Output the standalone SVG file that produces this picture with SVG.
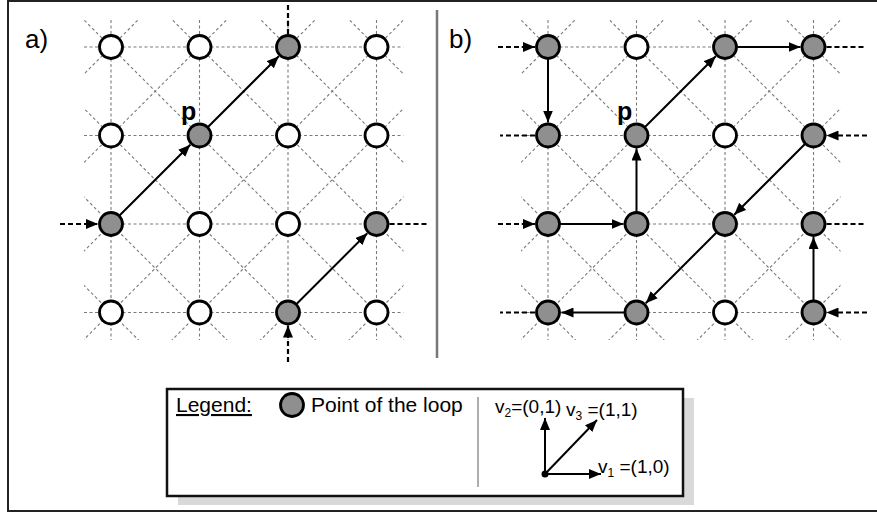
<svg xmlns="http://www.w3.org/2000/svg" width="877" height="513" viewBox="0 0 877 513">
<style>
.grid{stroke:#7a7a7a;stroke-width:1.1;stroke-dasharray:3,2.5;fill:none}
.arr{stroke:#000;stroke-width:2;fill:none;marker-end:url(#ah)}
.ext{stroke:#000;stroke-width:2.2;stroke-dasharray:5,3;fill:none}
.exta{stroke:#000;stroke-width:2.2;stroke-dasharray:5,3;fill:none;marker-end:url(#ah)}
.on{fill:#8f8f8f;stroke:#000;stroke-width:2.8}
.off{fill:#fff;stroke:#000;stroke-width:2.8}
.lbl{font-family:"Liberation Sans",Arial,sans-serif;fill:#000}
</style>
<defs>
<marker id="ah" markerUnits="userSpaceOnUse" markerWidth="12" markerHeight="10" refX="12" refY="5" orient="auto">
<path d="M0,0 L12,5 L0,10 z" fill="#000"/>
</marker>
<clipPath id="clipA"><rect x="-27" y="-27" width="319.5" height="320"/></clipPath>
<g id="gridlines">
<path d="M-27,0H292.5M-27,88.5H292.5M-27,177H292.5M-27,265.5H292.5M0,-27V293M88.5,-27V293M177,-27V293M265.5,-27V293"/>
<path d="M-665.5,-400L134.5,400M-577,-400L223,400M-488.5,-400L311.5,400M-400,-400L400,400M-311.5,-400L488.5,400M-223,-400L577,400M-134.5,-400L665.5,400"/>
<path d="M400,-400L-400,400M488.5,-400L-311.5,400M577,-400L-223,400M665.5,-400L-134.5,400M754,-400L-46,400M842.5,-400L42.5,400M931,-400L131,400"/>
</g>
</defs>
<rect x="8" y="1" width="872" height="510" fill="#fff" stroke="#222" stroke-width="2"/>
<line x1="437" y1="10" x2="437" y2="358" stroke="#777" stroke-width="2.5"/>
<g id="grid-a" class="grid" transform="translate(111,47)" clip-path="url(#clipA)"><use href="#gridlines"/></g>
<g id="grid-b" class="grid" transform="translate(548,47)" clip-path="url(#clipA)"><use href="#gridlines"/></g>
<text class="lbl" x="25" y="48" font-size="26">a)</text>
<text class="lbl" x="449" y="48" font-size="26">b)</text>
<text class="lbl" x="181" y="120" font-size="25" font-weight="bold">p</text>
<text class="lbl" x="617" y="120" font-size="25" font-weight="bold">p</text>
<g id="connectors">
<line class="arr" x1="111" y1="224" x2="190.3" y2="144.7"/>
<line class="arr" x1="199.5" y1="135.5" x2="278.8" y2="56.2"/>
<line class="arr" x1="288" y1="312.5" x2="367.3" y2="233.2"/>
<line class="exta" x1="60" y1="224" x2="98" y2="224"/>
<line class="exta" x1="288" y1="362" x2="288" y2="325.5"/>
<line class="ext" x1="288" y1="34" x2="288" y2="3"/>
<line class="ext" x1="389.5" y1="224" x2="427" y2="224"/>
<line class="exta" x1="498" y1="47" x2="535" y2="47"/>
<line class="arr" x1="548" y1="47" x2="548" y2="122.5"/>
<line class="ext" x1="535" y1="135.5" x2="500" y2="135.5"/>
<line class="exta" x1="498" y1="224" x2="535" y2="224"/>
<line class="arr" x1="548" y1="224" x2="623.5" y2="224"/>
<line class="arr" x1="636.5" y1="224" x2="636.5" y2="148.5"/>
<line class="arr" x1="636.5" y1="135.5" x2="715.8" y2="56.2"/>
<line class="arr" x1="725" y1="47" x2="800.5" y2="47"/>
<line class="ext" x1="826.5" y1="47" x2="865" y2="47"/>
<line class="exta" x1="867" y1="135.5" x2="826.5" y2="135.5"/>
<line class="arr" x1="813.5" y1="135.5" x2="734.2" y2="214.8"/>
<line class="arr" x1="725" y1="224" x2="645.7" y2="303.3"/>
<line class="arr" x1="636.5" y1="312.5" x2="561.5" y2="312.5"/>
<line class="ext" x1="535" y1="312.5" x2="500" y2="312.5"/>
<line class="ext" x1="826.5" y1="224" x2="865" y2="224"/>
<line class="arr" x1="813.5" y1="312.5" x2="813.5" y2="237"/>
<line class="exta" x1="867" y1="312.5" x2="826.5" y2="312.5"/>
</g>
<g id="nodes-a">
<g id="a00"><circle class="off" cx="111" cy="47" r="11.5"/></g>
<g id="a10"><circle class="off" cx="199.5" cy="47" r="11.5"/></g>
<g id="a20"><circle class="on" cx="288" cy="47" r="11.5"/></g>
<g id="a30"><circle class="off" cx="376.5" cy="47" r="11.5"/></g>
<g id="a01"><circle class="off" cx="111" cy="135.5" r="11.5"/></g>
<g id="a11"><circle class="on" cx="199.5" cy="135.5" r="11.5"/></g>
<g id="a21"><circle class="off" cx="288" cy="135.5" r="11.5"/></g>
<g id="a31"><circle class="off" cx="376.5" cy="135.5" r="11.5"/></g>
<g id="a02"><circle class="on" cx="111" cy="224" r="11.5"/></g>
<g id="a12"><circle class="off" cx="199.5" cy="224" r="11.5"/></g>
<g id="a22"><circle class="off" cx="288" cy="224" r="11.5"/></g>
<g id="a32"><circle class="on" cx="376.5" cy="224" r="11.5"/></g>
<g id="a03"><circle class="off" cx="111" cy="312.5" r="11.5"/></g>
<g id="a13"><circle class="off" cx="199.5" cy="312.5" r="11.5"/></g>
<g id="a23"><circle class="on" cx="288" cy="312.5" r="11.5"/></g>
<g id="a33"><circle class="off" cx="376.5" cy="312.5" r="11.5"/></g>
</g>
<g id="nodes-b">
<g id="b00"><circle class="on" cx="548" cy="47" r="11.5"/></g>
<g id="b10"><circle class="off" cx="636.5" cy="47" r="11.5"/></g>
<g id="b20"><circle class="on" cx="725" cy="47" r="11.5"/></g>
<g id="b30"><circle class="on" cx="813.5" cy="47" r="11.5"/></g>
<g id="b01"><circle class="on" cx="548" cy="135.5" r="11.5"/></g>
<g id="b11"><circle class="on" cx="636.5" cy="135.5" r="11.5"/></g>
<g id="b21"><circle class="off" cx="725" cy="135.5" r="11.5"/></g>
<g id="b31"><circle class="on" cx="813.5" cy="135.5" r="11.5"/></g>
<g id="b02"><circle class="on" cx="548" cy="224" r="11.5"/></g>
<g id="b12"><circle class="on" cx="636.5" cy="224" r="11.5"/></g>
<g id="b22"><circle class="on" cx="725" cy="224" r="11.5"/></g>
<g id="b32"><circle class="on" cx="813.5" cy="224" r="11.5"/></g>
<g id="b03"><circle class="on" cx="548" cy="312.5" r="11.5"/></g>
<g id="b13"><circle class="on" cx="636.5" cy="312.5" r="11.5"/></g>
<g id="b23"><circle class="off" cx="725" cy="312.5" r="11.5"/></g>
<g id="b33"><circle class="on" cx="813.5" cy="312.5" r="11.5"/></g>
</g>
<g id="legend">
<rect x="178" y="398" width="516" height="107" fill="#d9d9d9"/>
<rect x="167" y="389" width="516" height="107" fill="#fff" stroke="#111" stroke-width="2.5"/>
<text class="lbl" x="176" y="412" font-size="21" text-decoration="underline">Legend:</text>
<circle class="on" cx="292" cy="405" r="11.5"/>
<text class="lbl" x="311" y="412" font-size="21">Point of the loop</text>
<line x1="478" y1="397" x2="478" y2="487" stroke="#777" stroke-width="1.2"/>
<line class="arr" x1="545" y1="474" x2="545" y2="418"/>
<line class="arr" x1="545" y1="474" x2="597" y2="420"/>
<line class="arr" x1="545" y1="474" x2="601" y2="474"/>
<circle cx="545" cy="474" r="3.5" fill="#000"/>
<text class="lbl" x="495" y="413" font-size="19">v<tspan font-size="12" dy="4">2</tspan><tspan dy="-4">=(0,1)</tspan></text>
<text class="lbl" x="566" y="416" font-size="19">v<tspan font-size="12" dy="4">3</tspan><tspan dy="-4"> =(1,1)</tspan></text>
<text class="lbl" x="598" y="473" font-size="19">v<tspan font-size="12" dy="4">1</tspan><tspan dy="-4"> =(1,0)</tspan></text>
</g>
</svg>
